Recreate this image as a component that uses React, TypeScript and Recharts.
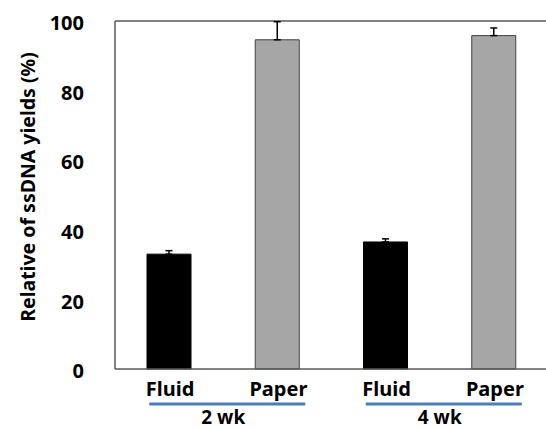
import React from 'react'
import { BarChart, Bar, XAxis, YAxis, Cell, ErrorBar, ReferenceLine } from 'recharts'

const categories = ['Fluid', 'Paper', 'Fluid', 'Paper']
const groups = ['2 wk', '2 wk', '4 wk', '4 wk']
const yields = [33.0, 94.6, 36.5, 95.8]
const errors = [1.0, 5.2, 0.9, 2.2]
const yTicks = [0, 20, 40, 60, 80, 100]

const FONT = '"Noto Sans", "DejaVu Sans", sans-serif'
const AXIS = '#595959'

const data = categories.map((c, i) => ({
  key: `${c}-${i}`,
  label: c,
  group: groups[i],
  value: yields[i],
  err: [0, errors[i]],
}))

const CatTick = (props: any) => {
  const { x, y, index } = props
  return (
    <text x={x + 1} y={y + 27} textAnchor="middle" fontFamily={FONT} fontWeight={700} fontSize={20} fill="#000">
      {categories[index]}
    </text>
  )
}

const GroupTick = (props: any) => {
  const { x, y, payload } = props
  return (
    <g>
      <line x1={x - 74} x2={x + 82} y1={y + 5} y2={y + 5} stroke="#4a7ebb" strokeWidth={3} />
      <text x={x} y={y + 25} textAnchor="middle" fontFamily={FONT} fontWeight={700} fontSize={19} fill="#000">
        {payload.value}
      </text>
    </g>
  )
}

const YTitle = (props: any) => {
  const vb = props.viewBox || { y: 0, height: 0 }
  const cy = vb.y + vb.height / 2 - 8
  return (
    <text x={35} y={cy} transform={`rotate(-90, 35, ${cy})`} textAnchor="middle" fontFamily={FONT} fontWeight={700} fontSize={19.5} fill="#000">
      Relative of ssDNA yields (%)
    </text>
  )
}

export default function App() {
  return (
    <div style={{ position: 'absolute', left: 0, top: 0, width: 546, height: 429, overflow: 'hidden', background: '#fff' }}>
      <BarChart width={560} height={429} data={data} margin={{ top: 21, right: 12, left: 0, bottom: 0 }} barCategoryGap="30%">
        <XAxis dataKey="key" height={30} tick={<CatTick />} tickLine={false} tickSize={0} tickMargin={0} axisLine={{ stroke: AXIS, strokeWidth: 1.5 }} interval={0} />
        <XAxis xAxisId="group" dataKey="group" allowDuplicatedCategory={false} height={30} tick={<GroupTick />} tickLine={false} tickSize={0} tickMargin={0} axisLine={false} interval={0} />
        <YAxis
          width={115}
          domain={[0, 100]}
          ticks={yTicks}
          tickLine={false}
          tickSize={0}
          tickMargin={31}
          axisLine={{ stroke: AXIS, strokeWidth: 1.5 }}
          tick={{ fontFamily: FONT, fontWeight: 700, fontSize: 20, fill: '#000', dy: 2 }}
          label={{ content: <YTitle /> }}
        />
        <ReferenceLine y={100} stroke={AXIS} strokeWidth={1.5} />
        <Bar dataKey="value" barSize={44} isAnimationActive={false}>
          {data.map((d, i) => (
            <Cell key={d.key} fill={i % 2 === 0 ? '#000000' : '#a6a6a6'} stroke={i % 2 === 0 ? '#000000' : '#404040'} strokeWidth={1} />
          ))}
          <ErrorBar dataKey="err" width={3.5} stroke="#000" strokeWidth={1.5} direction="y" />
        </Bar>
      </BarChart>
    </div>
  )
}
